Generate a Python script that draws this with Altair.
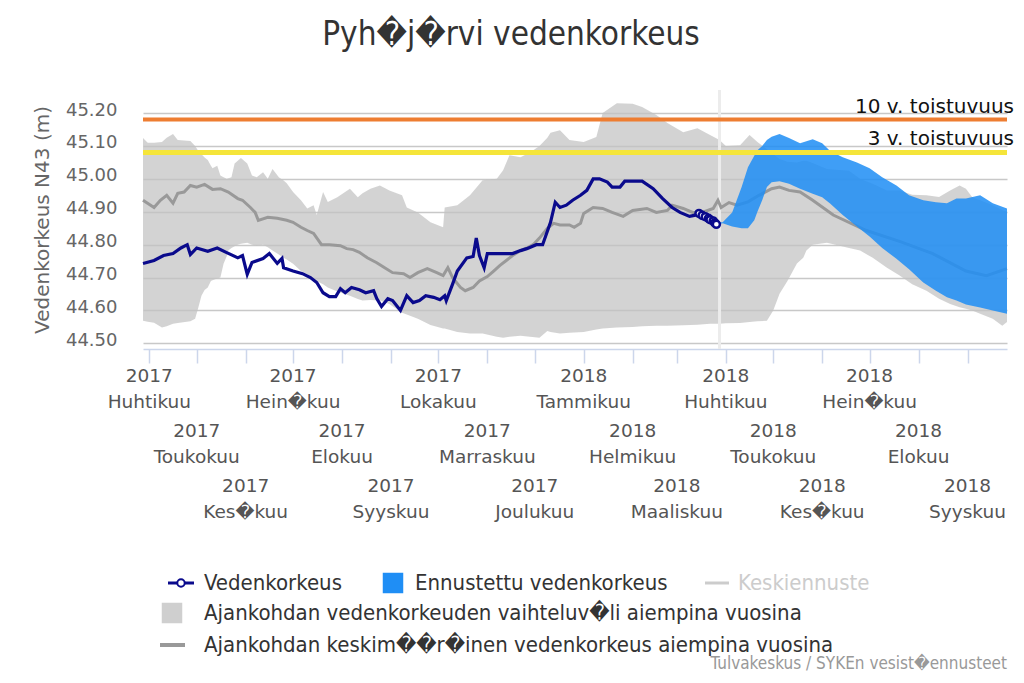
import altair as alt
import pandas as pd

# ---------------- text ----------------
title_text = "Pyh\ufffdj\ufffdrvi vedenkorkeus"
y_title = "Vedenkorkeus N43 (m)"
threshold_values = [45.18, 45.08]
threshold_labels = ["10 v. toistuvuus", "3 v. toistuvuus"]
legend_labels = [
    "Vedenkorkeus",
    "Ennustettu vedenkorkeus",
    "Keskiennuste",
    "Ajankohdan vedenkorkeuden vaihteluv\ufffdli aiempina vuosina",
    "Ajankohdan keskim\ufffd\ufffdr\ufffdinen vedenkorkeus aiempina vuosina",
]
credit_text = "Tulvakeskus / SYKEn vesist\ufffdennusteet"
today = "2018-03-28"
y_ticks = [44.5, 44.6, 44.7, 44.8, 44.9, 45.0, 45.1, 45.2]

# ---------------- x tick labels ----------------
tick_dates = ["2017-04-01", "2017-05-01", "2017-06-01", "2017-07-01", "2017-08-01", "2017-09-01",
              "2017-10-01", "2017-11-01", "2017-12-01", "2018-01-01", "2018-02-01", "2018-03-01",
              "2018-04-01", "2018-05-01", "2018-06-01", "2018-07-01", "2018-08-01", "2018-09-01"]
tick_years = ["2017"] * 9 + ["2018"] * 9
tick_months = ["Huhtikuu", "Toukokuu", "Kes\ufffdkuu", "Hein\ufffdkuu", "Elokuu", "Syyskuu",
               "Lokakuu", "Marraskuu", "Joulukuu", "Tammikuu", "Helmikuu", "Maaliskuu",
               "Huhtikuu", "Toukokuu", "Kes\ufffdkuu", "Hein\ufffdkuu", "Elokuu", "Syyskuu"]

# ---------------- observed water level ----------------
obs_dates = ["2017-03-28", "2017-04-04", "2017-04-10", "2017-04-16", "2017-04-21", "2017-04-25",
             "2017-04-27", "2017-05-01", "2017-05-08", "2017-05-14", "2017-05-20", "2017-05-27",
             "2017-05-30", "2017-06-02", "2017-06-05", "2017-06-12", "2017-06-16", "2017-06-21",
             "2017-06-24", "2017-06-25", "2017-07-01", "2017-07-07", "2017-07-12", "2017-07-16",
             "2017-07-20", "2017-07-24", "2017-07-28", "2017-07-31", "2017-08-03", "2017-08-07",
             "2017-08-12", "2017-08-16", "2017-08-21", "2017-08-23", "2017-08-26", "2017-08-30",
             "2017-09-02", "2017-09-07", "2017-09-11", "2017-09-15", "2017-09-19", "2017-09-23",
             "2017-09-28", "2017-10-02", "2017-10-05", "2017-10-06", "2017-10-10", "2017-10-13",
             "2017-10-19", "2017-10-23", "2017-10-25", "2017-10-27", "2017-10-30", "2017-11-01",
             "2017-11-09", "2017-11-17", "2017-11-22", "2017-11-26", "2017-12-02", "2017-12-06",
             "2017-12-11", "2017-12-14", "2017-12-17", "2017-12-21", "2017-12-25", "2017-12-30",
             "2018-01-03", "2018-01-07", "2018-01-11", "2018-01-16", "2018-01-19", "2018-01-24",
             "2018-01-27", "2018-02-07", "2018-02-14", "2018-02-20", "2018-02-26", "2018-03-03",
             "2018-03-09", "2018-03-12"]
obs_vals = [44.743, 44.752, 44.767, 44.773, 44.790, 44.800,
            44.770, 44.790, 44.780, 44.790, 44.776, 44.760,
            44.767, 44.710, 44.746, 44.758, 44.773, 44.743,
            44.758, 44.730, 44.720, 44.712, 44.700, 44.685,
            44.654, 44.642, 44.642, 44.666, 44.654, 44.670,
            44.663, 44.654, 44.660, 44.636, 44.612, 44.636,
            44.630, 44.600, 44.645, 44.624, 44.630, 44.645,
            44.640, 44.633, 44.645, 44.630, 44.680, 44.720,
            44.760, 44.764, 44.820, 44.767, 44.730, 44.773,
            44.773, 44.773, 44.782, 44.788, 44.800, 44.800,
            44.868, 44.929, 44.913, 44.920, 44.935, 44.950,
            44.965, 45.000, 45.000, 44.990, 44.975, 44.975,
            44.993, 44.993, 44.970, 44.940, 44.913, 44.898,
            44.886, 44.889]
marker_dates = ["2018-03-15", "2018-03-17", "2018-03-19", "2018-03-21", "2018-03-22", "2018-03-24",
                "2018-03-25", "2018-03-26"]
marker_vals = [44.895, 44.889, 44.885, 44.880, 44.876, 44.872, 44.866, 44.862]

# ---------------- historical mean ----------------
mean_dates = ["2017-03-28", "2017-04-04", "2017-04-08", "2017-04-12", "2017-04-16", "2017-04-19",
              "2017-04-23", "2017-04-27", "2017-05-01", "2017-05-06", "2017-05-11", "2017-05-16",
              "2017-05-21", "2017-05-27", "2017-05-30", "2017-06-04", "2017-06-07", "2017-06-09",
              "2017-06-15", "2017-06-21", "2017-06-27", "2017-07-01", "2017-07-06", "2017-07-10",
              "2017-07-14", "2017-07-19", "2017-07-24", "2017-07-31", "2017-08-04", "2017-08-08",
              "2017-08-12", "2017-08-17", "2017-08-23", "2017-08-28", "2017-09-02", "2017-09-09",
              "2017-09-13", "2017-09-18", "2017-09-24", "2017-09-30", "2017-10-04", "2017-10-07",
              "2017-10-10", "2017-10-15", "2017-10-18", "2017-10-23", "2017-10-27", "2017-11-01",
              "2017-11-05", "2017-11-09", "2017-11-13", "2017-11-17", "2017-11-22", "2017-11-26",
              "2017-11-30", "2017-12-04", "2017-12-09", "2017-12-13", "2017-12-17", "2017-12-23",
              "2017-12-26", "2017-12-30", "2018-01-01", "2018-01-07", "2018-01-13", "2018-01-19",
              "2018-01-26", "2018-02-01", "2018-02-10", "2018-02-16", "2018-02-23", "2018-02-26",
              "2018-03-05", "2018-03-11", "2018-03-17", "2018-03-24", "2018-03-27", "2018-03-29",
              "2018-04-03", "2018-04-08", "2018-04-15", "2018-04-22", "2018-04-30", "2018-05-05",
              "2018-05-11", "2018-05-18", "2018-05-26", "2018-06-08", "2018-06-29", "2018-07-20",
              "2018-08-10", "2018-08-31", "2018-09-13", "2018-09-26"]
mean_vals = [44.935, 44.913, 44.935, 44.950, 44.926, 44.956,
             44.960, 44.980, 44.975, 44.983, 44.968, 44.970,
             44.960, 44.940, 44.935, 44.913, 44.898, 44.874,
             44.883, 44.880, 44.874, 44.868, 44.853, 44.843,
             44.834, 44.800, 44.800, 44.797, 44.788, 44.785,
             44.777, 44.760, 44.745, 44.730, 44.715, 44.712,
             44.700, 44.715, 44.727, 44.715, 44.706, 44.730,
             44.700, 44.670, 44.660, 44.670, 44.690, 44.703,
             44.720, 44.737, 44.752, 44.767, 44.782, 44.790,
             44.800, 44.820, 44.850, 44.865, 44.860, 44.860,
             44.853, 44.865, 44.895, 44.913, 44.910, 44.898,
             44.886, 44.904, 44.910, 44.898, 44.904, 44.920,
             44.910, 44.898, 44.898, 44.910, 44.935, 44.913,
             44.928, 44.920, 44.930, 44.950, 44.970, 44.975,
             44.965, 44.960, 44.935, 44.890, 44.843, 44.810,
             44.773, 44.720, 44.706, 44.727]

# ---------------- historical range ----------------
range_dates = ["2017-03-28", "2017-03-31", "2017-04-04", "2017-04-09", "2017-04-12", "2017-04-16",
               "2017-04-19", "2017-04-27", "2017-04-30", "2017-05-02", "2017-05-04", "2017-05-06",
               "2017-05-08", "2017-05-10", "2017-05-11", "2017-05-14", "2017-05-16", "2017-05-18",
               "2017-05-20", "2017-05-21", "2017-05-23", "2017-05-25", "2017-05-27", "2017-05-29",
               "2017-06-02", "2017-06-05", "2017-06-08", "2017-06-12", "2017-06-15", "2017-06-18",
               "2017-06-22", "2017-06-25", "2017-06-27", "2017-07-01", "2017-07-06", "2017-07-10",
               "2017-07-14", "2017-07-16", "2017-07-20", "2017-07-23", "2017-07-29", "2017-08-06",
               "2017-08-11", "2017-08-14", "2017-08-19", "2017-08-25", "2017-08-31", "2017-09-08",
               "2017-09-11", "2017-09-18", "2017-09-26", "2017-10-04", "2017-10-05", "2017-10-13",
               "2017-10-21", "2017-10-29", "2017-11-07", "2017-11-11", "2017-11-15", "2017-11-22",
               "2017-11-28", "2017-12-04", "2017-12-09", "2017-12-11", "2017-12-17", "2017-12-23",
               "2018-01-01", "2018-01-09", "2018-01-13", "2018-01-22", "2018-02-01", "2018-02-07",
               "2018-02-16", "2018-02-23", "2018-03-05", "2018-03-14", "2018-03-22", "2018-03-28",
               "2018-04-01", "2018-04-10", "2018-04-16", "2018-04-21", "2018-04-27", "2018-05-01",
               "2018-05-05", "2018-05-10", "2018-05-16", "2018-05-20", "2018-05-22", "2018-05-26",
               "2018-06-04", "2018-06-12", "2018-06-18", "2018-06-25", "2018-07-03", "2018-07-12",
               "2018-07-20", "2018-07-28", "2018-08-06", "2018-08-14", "2018-08-21", "2018-08-27",
               "2018-08-31", "2018-09-04", "2018-09-09", "2018-09-17", "2018-09-23", "2018-09-26"]
range_hi = [45.124, 45.110, 45.110, 45.112, 45.125, 45.136,
            45.118, 45.115, 45.100, 45.085, 45.075, 45.065,
            45.057, 45.040, 45.032, 45.040, 45.010, 45.005,
            45.000, 45.002, 45.005, 45.047, 45.055, 45.063,
            45.047, 45.010, 45.005, 45.020, 45.000, 45.030,
            45.005, 44.995, 44.987, 44.960, 44.935, 44.910,
            44.920, 44.890, 44.960, 44.930, 44.944, 44.970,
            44.944, 44.956, 44.970, 44.980, 44.965, 44.950,
            44.913, 44.898, 44.868, 44.853, 44.913, 44.920,
            44.950, 44.996, 45.000, 45.026, 45.072, 45.066,
            45.080, 45.100, 45.125, 45.140, 45.148, 45.118,
            45.112, 45.127, 45.200, 45.230, 45.228, 45.218,
            45.194, 45.170, 45.142, 45.154, 45.133, 45.118,
            45.100, 45.102, 45.133, 45.112, 45.090, 45.075,
            45.060, 45.052, 45.050, 45.055, 45.055, 45.048,
            45.030, 45.027, 45.025, 45.000, 44.985, 44.965,
            44.965, 44.952, 44.950, 44.945, 44.965, 44.980,
            44.970, 44.944, 44.935, 44.920, 44.905, 44.900]
range_lo = [44.569, 44.566, 44.563, 44.548, 44.552, 44.560,
            44.562, 44.567, 44.575, 44.608, 44.645, 44.662,
            44.670, 44.690, 44.692, 44.697, 44.700, 44.742,
            44.765, 44.782, 44.790, 44.795, 44.800, 44.803,
            44.806, 44.800, 44.797, 44.800, 44.792, 44.782,
            44.770, 44.760, 44.755, 44.742, 44.720, 44.710,
            44.697, 44.690, 44.680, 44.670, 44.658, 44.645,
            44.635, 44.630, 44.632, 44.630, 44.620, 44.593,
            44.588, 44.575, 44.556, 44.545, 44.545, 44.535,
            44.530, 44.530, 44.520, 44.517, 44.520, 44.523,
            44.520, 44.517, 44.538, 44.535, 44.530, 44.532,
            44.535, 44.542, 44.545, 44.548, 44.550, 44.552,
            44.554, 44.554, 44.555, 44.557, 44.560, 44.560,
            44.561, 44.562, 44.565, 44.567, 44.569, 44.600,
            44.651, 44.690, 44.743, 44.760, 44.782, 44.800,
            44.806, 44.797, 44.790, 44.782, 44.760, 44.730,
            44.706, 44.680, 44.660, 44.636, 44.620, 44.610,
            44.605, 44.600, 44.590, 44.575, 44.554, 44.565]

# ---------------- forecast range ----------------
fc_dates = ["2018-03-28", "2018-03-30", "2018-04-05", "2018-04-11", "2018-04-15", "2018-04-19",
            "2018-04-21", "2018-04-24", "2018-04-27", "2018-04-30", "2018-05-05", "2018-05-11",
            "2018-05-18", "2018-05-26", "2018-06-01", "2018-06-06", "2018-06-14", "2018-06-23",
            "2018-07-01", "2018-07-09", "2018-07-18", "2018-07-26", "2018-08-04", "2018-08-12",
            "2018-08-19", "2018-08-25", "2018-08-31", "2018-09-09", "2018-09-17", "2018-09-26"]
fc_hi = [44.868, 44.868, 44.898, 44.975, 45.035, 45.070,
         45.087, 45.100, 45.118, 45.128, 45.136, 45.124,
         45.108, 45.120, 45.108, 45.085, 45.066, 45.050,
         45.032, 45.005, 44.980, 44.950, 44.935, 44.929,
         44.926, 44.940, 44.940, 44.950, 44.926, 44.910]
fc_lo = [44.862, 44.865, 44.855, 44.850, 44.850, 44.874,
         44.900, 44.935, 44.975, 44.990, 44.993, 44.985,
         44.970, 44.955, 44.944, 44.925, 44.890, 44.855,
         44.825, 44.790, 44.757, 44.725, 44.685, 44.660,
         44.640, 44.630, 44.618, 44.609, 44.600, 44.590]

# ---------------- styling ----------------
FONT = "DejaVu Sans"
FONT_C = "DejaVu Sans Condensed, Liberation Sans Narrow, DejaVu Sans"
NAVY = "#0a0a8c"
BLUE = "#1f8ef5"
GRAY_BAND = "#c2c2c2"
GRAY_MEAN = "#999999"

W, H = 864, 259
xs = alt.Scale(type="utc", domain=[alt.DateTime(year=2017, month=3, date=28, utc=True),
                                   alt.DateTime(year=2018, month=9, date=26, utc=True)])
ys = alt.Scale(domain=[44.483, 45.27], nice=False, zero=False)

tick_dt = [alt.DateTime(year=int(d[:4]), month=int(d[5:7]), date=1, utc=True) for d in tick_dates]

AX_X = alt.Axis(values=tick_dt, labels=False, grid=False, title=None, tickSize=14, tickWidth=1.5,
                tickColor="#ccd6eb", domainColor="#ccd6eb", domainWidth=1.5)
AX_Y = alt.Axis(values=y_ticks, format=".2f", tickCount=8,
                domain=False, ticks=False, tickSize=0, grid=True, gridColor="#c8c8c8", gridWidth=1.5,
                labelOverlap=False, labelFlush=False,
                labelFont=FONT, labelFontSize=18, labelColor="#666666", labelPadding=26, labelOffset=-3,
                title=y_title, titleFont=FONT, titleFontSize=20, titleFontWeight="normal",
                titleColor="#666666", titlePadding=13)


def X(field="date:T"):
    return alt.X(field, scale=xs, axis=AX_X)


def Y(field):
    return alt.Y(field, scale=ys, axis=AX_Y)


range_df = pd.DataFrame({"date": range_dates, "hi": range_hi, "lo": range_lo})
mean_df = pd.DataFrame({"date": mean_dates, "v": mean_vals})
obs_df = pd.DataFrame({"date": obs_dates + marker_dates, "v": obs_vals + marker_vals})
mark_df = pd.DataFrame({"date": marker_dates, "v": marker_vals})
fc_df = pd.DataFrame({"date": fc_dates, "hi": fc_hi, "lo": fc_lo})
thr_df = pd.DataFrame({"v": threshold_values, "label": threshold_labels})
today_df = pd.DataFrame({"date": [today]})
lab_df = pd.DataFrame({"date": tick_dates, "year": tick_years, "month": tick_months,
                       "row": [i % 3 for i in range(len(tick_dates))]})

band = alt.Chart(range_df).mark_area(color=GRAY_BAND, opacity=0.72).encode(
    x=X(), y=Y("hi:Q"), y2="lo:Q")

today_rule = alt.Chart(today_df).mark_rule(color="#ececec", strokeWidth=3).encode(x=X())

mean_line = alt.Chart(mean_df).mark_line(color=GRAY_MEAN, strokeWidth=3).encode(x=X(), y=Y("v:Q"))

fc_area = alt.Chart(fc_df).mark_area(color=BLUE, opacity=0.86).encode(
    x=X(), y=Y("hi:Q"), y2="lo:Q")

obs_line = alt.Chart(obs_df).mark_line(color=NAVY, strokeWidth=3.2).encode(x=X(), y=Y("v:Q"))

obs_marks = alt.Chart(mark_df).mark_point(shape="circle", filled=True, fill="white", stroke=NAVY,
                                          strokeWidth=2.5, size=50, opacity=1).encode(
    x=X(), y=Y("v:Q"))

thr_colors = ["#ee7d31", "#f5e53a"]
thr_widths = [4, 5]
thr_dy = [-7, -8]
thr_layers = []
for i in range(len(threshold_values)):
    d = thr_df.iloc[[i]]
    thr_layers.append(alt.Chart(d).mark_rule(color=thr_colors[i], strokeWidth=thr_widths[i]).encode(
        y=Y("v:Q"), x=alt.value(0), x2=alt.value(W)))
    thr_layers.append(alt.Chart(d).mark_text(align="right", baseline="alphabetic", dy=thr_dy[i],
                                             font=FONT, fontSize=20, color="#111111").encode(
        y=Y("v:Q"), x=alt.value(W + 7), text="label:N"))

row_center = [299, 353.5, 408.5]
label_layers = []
for r in range(3):
    sub = alt.Chart(lab_df).transform_filter(alt.datum.row == r)
    label_layers.append(sub.mark_text(font=FONT, fontSize=18.5, color="#555555", baseline="middle",
                                      dy=-13).encode(
        x=X(), y=alt.value(row_center[r]), text="year:N"))
    label_layers.append(sub.mark_text(font=FONT, fontSize=18.5, color="#555555", baseline="middle",
                                      dy=13).encode(
        x=X(), y=alt.value(row_center[r]), text="month:N"))

# ---------------- legend ----------------
def one(label):
    return alt.Chart(pd.DataFrame({"label": [label]}))

LEG_FS = 22
leg = []
r1, r2, r3 = 493, 523, 555
leg.append(one(legend_labels[0]).mark_rule(color=NAVY, strokeWidth=3).encode(
    x=alt.value(25), x2=alt.value(51), y=alt.value(r1)))
leg.append(one(legend_labels[0]).mark_point(shape="circle", filled=True, fill="white", stroke=NAVY,
                                            strokeWidth=2, size=55, opacity=1).encode(
    x=alt.value(38), y=alt.value(r1)))
leg.append(one(legend_labels[0]).mark_text(align="left", baseline="middle", font=FONT_C,
                                           fontSize=LEG_FS, color="#333333").encode(
    x=alt.value(61), y=alt.value(r1), text="label:N"))
leg.append(one(legend_labels[1]).mark_square(color=BLUE, opacity=1, size=420).encode(
    x=alt.value(250), y=alt.value(r1)))
leg.append(one(legend_labels[1]).mark_text(align="left", baseline="middle", font=FONT_C,
                                           fontSize=LEG_FS, color="#333333").encode(
    x=alt.value(272), y=alt.value(r1), text="label:N"))
leg.append(one(legend_labels[2]).mark_rule(color="#cccccc", strokeWidth=3).encode(
    x=alt.value(562), x2=alt.value(586), y=alt.value(r1)))
leg.append(one(legend_labels[2]).mark_text(align="left", baseline="middle", font=FONT_C,
                                           fontSize=LEG_FS, color="#cccccc").encode(
    x=alt.value(595), y=alt.value(r1), text="label:N"))
leg.append(one(legend_labels[3]).mark_square(color="#cfcfcf", opacity=1, size=420).encode(
    x=alt.value(29), y=alt.value(r2)))
leg.append(one(legend_labels[3]).mark_text(align="left", baseline="middle", font=FONT_C,
                                           fontSize=LEG_FS, color="#333333").encode(
    x=alt.value(61), y=alt.value(r2), text="label:N"))
leg.append(one(legend_labels[4]).mark_rule(color=GRAY_MEAN, strokeWidth=4).encode(
    x=alt.value(17), x2=alt.value(42), y=alt.value(r3)))
leg.append(one(legend_labels[4]).mark_text(align="left", baseline="middle", font=FONT_C,
                                           fontSize=LEG_FS, color="#333333").encode(
    x=alt.value(61), y=alt.value(r3), text="label:N"))
leg.append(one(credit_text).mark_text(align="right", baseline="middle", font=FONT_C,
                                      fontSize=17, color="#999999").encode(
    x=alt.value(W), y=alt.value(574), text="label:N"))

chart = alt.layer(
    band, today_rule, mean_line, fc_area, obs_line, obs_marks,
    *thr_layers, *label_layers, *leg,
).properties(
    width=W, height=H,
    autosize=alt.AutoSizeParams(type="none"),
    padding={"left": 135, "top": 82, "right": 9, "bottom": 324},
    title=alt.Title(title_text, font=FONT_C, fontSize=33, fontWeight="normal", color="#333333",
                    anchor="middle", dx=-64, offset=11, baseline="alphabetic"),
).configure(font=FONT, view=alt.ViewConfig(stroke=None))

chart.save("out.html", embed_options={"renderer": "svg", "actions": False})
